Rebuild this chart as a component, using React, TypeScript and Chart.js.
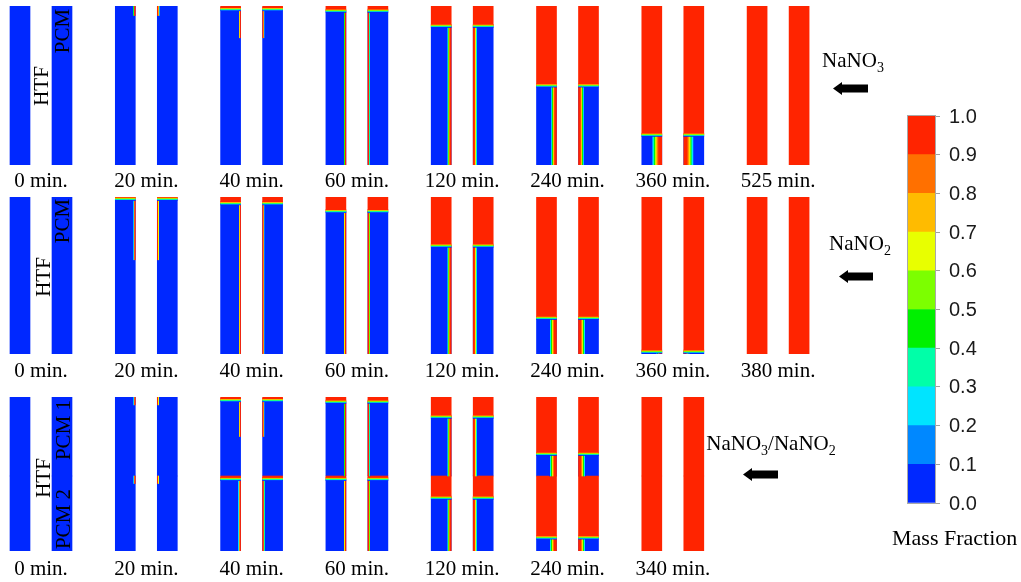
import React, { useEffect, useRef } from 'react';
import { Chart, registerables } from 'chart.js';

Chart.register(...registerables);

// ---------------- data ----------------
// melt = depth of the molten (red) zone from the top, as a share of the PCM height
// film = thickness of the molten film on the HTF wall, as a share of the column width
// filmEnd = how far down that film reaches, as a share of the PCM height
const nitrateTimes = [0, 20, 40, 60, 120, 240, 360, 525];
const nitrateMelt = [0, 0, 0.02, 0.03, 0.125, 0.5, 0.81, 1];
const nitrateFilm = [0, 0.12, 0.1, 0.1, 0.2, 0.28, 0.5, 0];
const nitrateFilmEnd = [0, 0.06, 0.2, 1, 1, 1, 1, 0];

const nitriteTimes = [0, 20, 40, 60, 120, 240, 360, 380];
const nitriteMelt = [0, 0.012, 0.04, 0.09, 0.31, 0.77, 0.985, 1];
const nitriteFilm = [0, 0.1, 0.1, 0.12, 0.2, 0.35, 0.3, 0];
const nitriteFilmEnd = [0, 0.4, 1, 1, 1, 1, 1, 0];

const cascadeTimes = [0, 20, 40, 60, 120, 240, 340];
const cascadeSplit = 0.513; // share of the column taken by PCM 1
const cascadeMelt1 = [0, 0, 0.04, 0.06, 0.25, 0.72, 1];
const cascadeMelt2 = [0, 0, 0.04, 0.04, 0.29, 0.82, 1];
const cascadeFilm1 = [0, 0.1, 0.1, 0.1, 0.2, 0.35, 0];
const cascadeFilmEnd1 = [0, 0.1, 0.5, 1, 1, 1, 0];
const cascadeFilm2 = [0, 0.1, 0.12, 0.12, 0.2, 0.35, 0];
const cascadeFilmEnd2 = [0, 0.1, 1, 1, 1, 1, 0];

const levelValues = [0, 0.1, 0.2, 0.3, 0.4, 0.5, 0.6, 0.7, 0.8, 0.9, 1.0];
const levelColors = ['#0028FF', '#0088FF', '#00E4FF', '#00FFA8', '#00F000', '#7CFF00', '#E8FF00', '#FFBB00', '#FF7000', '#FF2400'];

// ---------------- styles / layout ----------------
const SERIF = "'Liberation Serif', 'Times New Roman', serif";
const SANS = "'Liberation Sans', Arial, sans-serif";
const RED = '#FF2400';
const BLUE = '#0028FF';
const W = 1021;
const PITCH = 105.3; // px between snapshot centres
const FIRST = 41; // px centre of first snapshot
const COL_W = 20; // px column width
const HALF_GAP = 11; // px half width of HTF gap
const FRONT_PX = 1.6; // px half thickness of the melt-front transition

const filmStops: [number, string][] = [
  [0, RED], [0.3, RED], [0.42, '#FF7000'], [0.52, '#FFBB00'], [0.6, '#E8FF00'],
  [0.66, '#7CFF00'], [0.72, '#00F000'], [0.8, '#00FFA8'], [0.87, '#00E4FF'], [0.94, '#0088FF'], [1, BLUE],
];
const frontStops: [number, string][] = [
  [0, RED], [0.25, '#FFBB00'], [0.45, '#7CFF00'], [0.65, '#00FFA8'], [0.85, '#0088FF'], [1, BLUE],
];

type Layer = { top: number; bottom: number; melt: number[]; film: number[]; filmEnd: number[] };

const nitrateLayers: Layer[] = [{ top: 0, bottom: 1, melt: nitrateMelt, film: nitrateFilm, filmEnd: nitrateFilmEnd }];
const nitriteLayers: Layer[] = [{ top: 0, bottom: 1, melt: nitriteMelt, film: nitriteFilm, filmEnd: nitriteFilmEnd }];
const cascadeLayers: Layer[] = [
  { top: 0, bottom: cascadeSplit, melt: cascadeMelt1, film: cascadeFilm1, filmEnd: cascadeFilmEnd1 },
  { top: cascadeSplit, bottom: 1, melt: cascadeMelt2, film: cascadeFilm2, filmEnd: cascadeFilmEnd2 },
];

function filmGradient(i: number, side: number, w: number) {
  return (ctx: any) => {
    const chart = ctx.chart;
    const xs = chart && chart.scales ? chart.scales.x : null;
    if (!xs) return RED;
    const c = xs.getPixelForValue(i);
    if (!Number.isFinite(c)) return RED;
    const inner = c + side * HALF_GAP;
    const outer = inner + side * w;
    const g = chart.ctx.createLinearGradient(inner, 0, outer, 0);
    filmStops.forEach(([p, col]) => g.addColorStop(p, col));
    return g;
  };
}

function frontGradient(a: number, b: number) {
  return (ctx: any) => {
    const chart = ctx.chart;
    const ys = chart && chart.scales ? chart.scales.y : null;
    if (!ys) return BLUE;
    const pa = ys.getPixelForValue(a);
    const pb = ys.getPixelForValue(b);
    if (!Number.isFinite(pa) || !Number.isFinite(pb) || pa === pb) return BLUE;
    const g = chart.ctx.createLinearGradient(0, pa, 0, pb);
    frontStops.forEach(([p, col]) => g.addColorStop(p, col));
    return g;
  };
}

function RowChart({ times, layers, top, colH, gap }: { times: number[]; layers: Layer[]; top: number; colH: number; gap: number }) {
  const ref = useRef<HTMLCanvasElement>(null);
  useEffect(() => {
    const u = (px: number) => px / PITCH;
    const half = FRONT_PX / colH;
    const liquid: any[] = [];
    const solid: any[] = [];
    const extras: any[] = [];
    times.forEach((_, i) => {
      [-1, 1].forEach((side) => {
        const x = i + side * u(HALF_GAP + COL_W / 2);
        layers.forEach((L) => {
          const h = L.bottom - L.top;
          const front = L.top + L.melt[i] * h;
          if (front > L.top) liquid.push({ x, y: [L.top, front] });
          if (front < L.bottom) solid.push({ x, y: [front, L.bottom] });
          if (front > L.top + half && front < L.bottom - half) {
            const a = front - half;
            const b = front + half;
            extras.push({
              data: [{ x, y: [a, b] }],
              barThickness: COL_W,
              backgroundColor: frontGradient(a, b),
              grouped: false,
              order: 0,
            });
          }
          const end = L.top + L.filmEnd[i] * h;
          const w = L.film[i] * COL_W;
          if (w > 0 && end > front) {
            extras.push({
              data: [{ x: i + side * u(HALF_GAP + w / 2), y: [front, end] }],
              barThickness: w,
              backgroundColor: filmGradient(i, side, w),
              grouped: false,
              order: 0,
            });
          }
        });
      });
    });
    const chart = new Chart(ref.current as HTMLCanvasElement, {
      type: 'bar',
      data: {
        datasets: [
          { data: liquid, backgroundColor: RED, barThickness: COL_W, grouped: false, order: 1 } as any,
          { data: solid, backgroundColor: BLUE, barThickness: COL_W, grouped: false, order: 1 } as any,
          ...extras,
        ],
      },
      options: {
        responsive: false,
        animation: false,
        events: [],
        layout: { padding: 0 },
        plugins: { legend: { display: false }, tooltip: { enabled: false } },
        scales: {
          x: {
            type: 'linear',
            offset: false,
            min: -FIRST / PITCH,
            max: (W - FIRST) / PITCH,
            grid: { display: false },
            border: { display: false },
            afterBuildTicks: (s: any) => {
              s.ticks = times.map((_, i) => ({ value: i }));
            },
            afterFit: (s: any) => {
              s.height = 40;
            },
            ticks: {
              autoSkip: false,
              maxRotation: 0,
              padding: gap,
              color: '#000',
              font: { family: SERIF, size: 21 },
              callback: (_v: any, idx: number) => `${times[idx]} min.`,
            },
          } as any,
          y: { type: 'linear', display: false, reverse: true, min: 0, max: 1 },
        },
      },
    });
    return () => chart.destroy();
  }, [times, layers, gap, colH]);
  return (
    <canvas
      ref={ref}
      width={W}
      height={colH + 40}
      style={{ position: 'absolute', left: 0, top, width: W, height: colH + 40, display: 'block' }}
    />
  );
}

const framePlugin = {
  id: 'frame',
  afterDatasetsDraw(chart: any) {
    const { left, top, right, bottom } = chart.chartArea;
    const c = chart.ctx;
    c.save();
    c.strokeStyle = '#a8a8a8';
    c.lineWidth = 1;
    c.strokeRect(left - 0.5, top - 0.5, right - left + 1, bottom - top + 1);
    c.restore();
  },
};

function ColorBar() {
  const ref = useRef<HTMLCanvasElement>(null);
  useEffect(() => {
    const chart = new Chart(ref.current as HTMLCanvasElement, {
      type: 'bar',
      data: {
        labels: ['Mass Fraction'],
        datasets: levelColors.map((c, k) => ({
          data: [levelValues[k + 1] - levelValues[k]],
          backgroundColor: c,
          barPercentage: 1,
          categoryPercentage: 1,
          borderWidth: 0,
        })),
      },
      options: {
        responsive: false,
        animation: false,
        events: [],
        layout: { padding: { left: 8, top: 16, right: 0, bottom: 22 } },
        plugins: { legend: { display: false }, tooltip: { enabled: false } },
        scales: {
          x: { stacked: true, display: false },
          y: {
            stacked: true,
            position: 'right',
            min: 0,
            max: 1,
            afterBuildTicks: (s: any) => {
              s.ticks = levelValues.map((v) => ({ value: v }));
            },
            afterFit: (s: any) => {
              s.width = 86;
            },
            grid: { drawOnChartArea: false, tickLength: 5, color: '#a0a0a0' },
            border: { color: '#a0a0a0' },
            ticks: {
              autoSkip: false,
              padding: 9,
              labelOffset: 1,
              color: '#1a1a1a',
              font: { family: SANS, size: 20 },
              callback: (v: any) => Number(v).toFixed(1),
            },
          } as any,
        },
      },
      plugins: [framePlugin],
    });
    return () => chart.destroy();
  }, []);
  return (
    <canvas
      ref={ref}
      width={121}
      height={430}
      style={{ position: 'absolute', left: 900, top: 95, width: 121, height: 430, display: 'block' }}
    />
  );
}

const textBase: React.CSSProperties = {
  position: 'absolute',
  fontFamily: SERIF,
  fontSize: 21,
  lineHeight: 1,
  whiteSpace: 'nowrap',
  color: '#000',
};

function VText({ text, x, y }: { text: string; x: number; y: number }) {
  return <div style={{ ...textBase, left: x, top: y, transform: 'translate(-50%, -50%) rotate(-90deg)' }}>{text}</div>;
}

function Species({ parts, x, y }: { parts: [string, string][]; x: number; y: number }) {
  return (
    <div style={{ ...textBase, left: x, top: y, transform: 'translate(-50%, -50%)' }}>
      {parts.map(([main, sub], k) => (
        <React.Fragment key={k}>
          {main}
          {sub ? <span style={{ fontSize: 14, verticalAlign: '-5px' }}>{sub}</span> : null}
        </React.Fragment>
      ))}
    </div>
  );
}

function Arrow({ x1, x2, y }: { x1: number; x2: number; y: number }) {
  const w = x2 - x1;
  const hh = 13;
  const head = 9;
  const sh = 8;
  const a = (hh - sh) / 2;
  const b = (hh + sh) / 2;
  return (
    <svg width={w} height={hh} style={{ position: 'absolute', left: x1, top: y - hh / 2 }}>
      <polygon
        points={`0,${hh / 2} ${head},0 ${head},${a} ${w},${a} ${w},${b} ${head},${b} ${head},${hh}`}
        fill="#000"
      />
    </svg>
  );
}

export default function App() {
  return (
    <div style={{ position: 'absolute', left: 0, top: 0, width: W, height: 582, background: '#fff', overflow: 'hidden' }}>
      <RowChart times={nitrateTimes} layers={nitrateLayers} top={6} colH={159} gap={-4} />
      <RowChart times={nitriteTimes} layers={nitriteLayers} top={197} colH={157} gap={-3} />
      <RowChart times={cascadeTimes} layers={cascadeLayers} top={397} colH={154} gap={-2} />
      <ColorBar />

      <VText text="HTF" x={41} y={86} />
      <VText text="PCM" x={62} y={31} />
      <VText text="HTF" x={43} y={277} />
      <VText text="PCM" x={62} y={221} />
      <VText text="HTF" x={43} y={478} />
      <VText text="PCM 1" x={63} y={430} />
      <VText text="PCM 2" x={63} y={519} />

      <Species parts={[['NaNO', '3']]} x={853} y={62} />
      <Arrow x1={833} x2={868} y={88} />
      <Species parts={[['NaNO', '2']]} x={860} y={245} />
      <Arrow x1={839} x2={873} y={276} />
      <Species parts={[['NaNO', '3'], ['/NaNO', '2']]} x={771} y={445} />
      <Arrow x1={743} x2={778} y={474} />

      <div style={{ ...textBase, left: 892, top: 538, fontSize: 22, transform: 'translateY(-50%)' }}>Mass Fraction</div>
    </div>
  );
}
